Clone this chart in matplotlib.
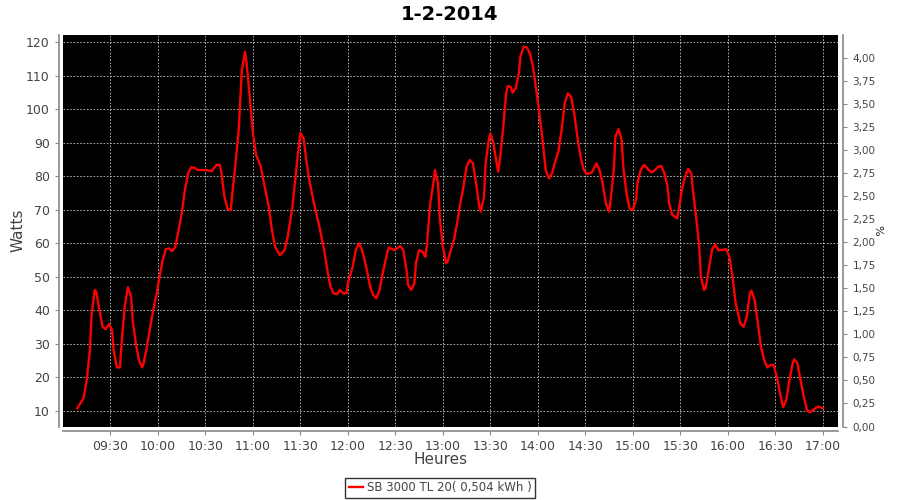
import matplotlib
matplotlib.use("Agg")
import matplotlib.pyplot as plt
import matplotlib.dates as mdates
import matplotlib.ticker as mticker
import pandas as pd

title = "1-2-2014"
series_label = "SB 3000 TL 20( 0,504 kWh )"

times = [
    "09:09", "09:13", "09:15", "09:17", "09:18", "09:20", "09:21", "09:23", "09:25", "09:27",
    "09:29", "09:31", "09:32", "09:34", "09:36", "09:37", "09:39", "09:41", "09:43", "09:44",
    "09:46", "09:48", "09:50", "09:51", "09:53", "09:55", "09:57", "09:59", "10:01", "10:03",
    "10:05", "10:07", "10:09", "10:11", "10:13", "10:15", "10:17", "10:19", "10:21", "10:23",
    "10:25", "10:30", "10:34", "10:37", "10:39", "10:40", "10:42", "10:44", "10:46", "10:47",
    "10:49", "10:51", "10:53", "10:55", "10:56", "10:58", "11:00", "11:02", "11:05", "11:07",
    "11:10", "11:12", "11:14", "11:17", "11:20", "11:22", "11:25", "11:28", "11:30", "11:32",
    "11:34", "11:36", "11:39", "11:42", "11:45", "11:47", "11:49", "11:51", "11:53", "11:55",
    "11:57", "11:59", "12:00", "12:03", "12:05", "12:07", "12:09", "12:12", "12:14", "12:16",
    "12:18", "12:20", "12:22", "12:25", "12:26", "12:29", "12:31", "12:33", "12:35", "12:37",
    "12:38", "12:40", "12:42", "12:43", "12:45", "12:47", "12:49", "12:50", "12:52", "12:54",
    "12:55", "12:57", "12:58", "13:00", "13:02", "13:03", "13:05", "13:07", "13:09", "13:11",
    "13:13", "13:15", "13:17", "13:19", "13:21", "13:23", "13:24", "13:26", "13:27", "13:29",
    "13:30", "13:32", "13:34", "13:35", "13:36", "13:38", "13:40", "13:41", "13:43", "13:44",
    "13:46", "13:48", "13:49", "13:51", "13:53", "13:55", "13:57", "13:59", "14:01", "14:03",
    "14:05", "14:07", "14:09", "14:11", "14:13", "14:15", "14:17", "14:19", "14:21", "14:23",
    "14:25", "14:27", "14:29", "14:31", "14:34", "14:36", "14:37", "14:39", "14:41", "14:43",
    "14:45", "14:46", "14:48", "14:49", "14:51", "14:53", "14:54", "14:56", "14:58", "15:00",
    "15:02", "15:03", "15:05", "15:07", "15:08", "15:10", "15:12", "15:14", "15:16", "15:18",
    "15:20", "15:22", "15:23", "15:25", "15:28", "15:29", "15:31", "15:33", "15:35", "15:37",
    "15:38", "15:40", "15:42", "15:43", "15:45", "15:46", "15:48", "15:50", "15:52", "15:54",
    "15:56", "15:59", "16:01", "16:03", "16:05", "16:08", "16:10", "16:12", "16:14", "16:15",
    "16:17", "16:19", "16:21", "16:23", "16:25", "16:27", "16:29", "16:31", "16:33", "16:35",
    "16:37", "16:39", "16:41", "16:42", "16:44", "16:46", "16:48", "16:50", "16:52", "16:54",
    "16:57", "16:59", "17:00",
]

watts = [
    10.8, 13.8, 19.2, 28.2, 38.1, 46.1, 45.6, 40.1, 35.1, 34.4,
    35.9, 34.2, 28.2, 23.0, 23.0, 30.2, 41.1, 46.9, 44.1, 37.1,
    30.2, 25.2, 23.0, 24.2, 29.2, 34.7, 40.1, 44.6, 50.1, 55.0,
    58.3, 58.5, 57.7, 59.0, 64.0, 68.9, 75.9, 80.9, 82.7, 82.6,
    81.9, 81.9, 81.6, 83.4, 83.5, 81.4, 73.9, 70.3, 69.9, 74.9,
    83.9, 93.8, 111.7, 117.2, 113.7, 103.8, 92.8, 86.4, 82.9, 77.9,
    71.0, 64.0, 59.0, 56.5, 58.0, 62.0, 71.0, 84.9, 93.0, 91.3,
    83.9, 77.9, 71.0, 65.0, 58.0, 52.1, 47.1, 45.1, 44.8, 46.1,
    45.1, 45.1, 48.1, 53.0, 58.0, 60.0, 58.0, 52.1, 47.1, 44.6,
    43.6, 46.1, 51.1, 57.5, 58.8, 58.0, 58.5, 59.2, 58.0, 52.1,
    47.6, 46.1, 48.1, 54.1, 58.0, 57.5, 56.0, 60.0, 71.9, 77.9,
    81.9, 77.9, 68.0, 59.0, 54.1, 54.5, 58.0, 61.0, 66.0, 71.9,
    76.9, 82.9, 84.9, 83.9, 77.9, 71.0, 69.5, 73.9, 83.9, 90.8,
    92.8, 89.8, 83.9, 81.4, 84.9, 93.8, 104.8, 107.0, 106.6, 105.0,
    106.3, 110.7, 115.7, 118.7, 118.5, 116.7, 112.7, 105.8, 98.8, 90.8,
    81.9, 79.4, 80.9, 84.4, 87.4, 93.8, 101.8, 104.8, 103.8, 98.8,
    91.8, 85.9, 81.9, 80.7, 81.1, 82.9, 83.9, 81.9, 77.9, 71.9,
    69.5, 72.9, 81.9, 91.8, 94.1, 90.8, 82.9, 74.9, 70.4, 69.9,
    72.9, 77.9, 81.9, 83.4, 83.1, 81.9, 81.2, 81.9, 82.9, 83.1,
    80.9, 76.9, 71.9, 68.5, 67.5, 69.9, 75.9, 79.9, 82.2, 80.9,
    75.9, 68.0, 59.0, 50.1, 46.1, 46.6, 52.1, 58.0, 59.7, 58.0,
    58.0, 58.3, 56.0, 50.1, 42.1, 36.1, 35.1, 38.1, 45.1, 45.9,
    43.1, 36.1, 29.2, 25.2, 23.0, 23.7, 23.7, 20.2, 15.3, 11.1,
    13.3, 19.2, 24.2, 25.4, 24.2, 19.2, 14.3, 10.3, 9.6, 10.3,
    11.3, 11.0, 10.8,
]

x = pd.to_datetime(["2014-02-01 " + t for t in times])

grey = "#888888"
label_col = "#444444"

fig = plt.figure(figsize=(9, 5), dpi=100)
ax = fig.add_axes([0.07, 0.147, 0.861, 0.783])
ax.set_facecolor("black")

ax.plot(x, watts, color="#ff0000", linewidth=1.7, label=series_label)

ax.set_xlim(pd.Timestamp("2014-02-01 09:00"), pd.Timestamp("2014-02-01 17:09:36"))
ax.set_ylim(5.35, 122.2)
ax.set_yticks(range(10, 121, 10))
ax.xaxis.set_major_formatter(mdates.DateFormatter("%H:%M"))
# 09:00 sits on the plot edge and has no label in the original
ax.set_xticks(pd.date_range("2014-02-01 09:30", "2014-02-01 17:00", freq="30min"))

ax.grid(True, color="#c8c8c8", linestyle=(0, (2, 2)), linewidth=0.6)

for side in ["top", "right"]:
    ax.spines[side].set_visible(False)
for side in ["left", "bottom"]:
    ax.spines[side].set_position(("outward", 3))
    ax.spines[side].set_color(grey)
    ax.spines[side].set_linewidth(1.2)
ax.tick_params(axis="both", colors=grey, labelcolor=label_col, labelsize=9, length=3, width=0.8)

ax.set_ylabel("Watts", fontsize=11, color=label_col)
ax.yaxis.set_label_coords(-0.049, 0.5)
ax.set_xlabel("Heures", fontsize=11, color=label_col)
ax.xaxis.set_label_coords(0.487, -0.066)

# right axis in percent
ax2 = ax.twinx()
ax2.set_ylim(0, 4.253)
ax2.set_yticks([i * 0.25 for i in range(17)])
ax2.yaxis.set_major_formatter(mticker.FuncFormatter(lambda v, p: f"{v:.2f}".replace(".", ",")))
for side in ["top", "left", "bottom"]:
    ax2.spines[side].set_visible(False)
ax2.spines["right"].set_position(("outward", 4))
ax2.spines["right"].set_color(grey)
ax2.spines["right"].set_linewidth(1.2)
ax2.tick_params(axis="y", colors=grey, labelcolor=label_col, labelsize=7.5, length=3, width=0.8)
ax2.set_ylabel("%", fontsize=8, color="#222222", rotation=270)
ax2.yaxis.set_label_coords(1.057, 0.5)

fig.suptitle(title, x=0.5, y=0.99, fontsize=14, fontweight="bold")

leg = fig.legend(loc="center", bbox_to_anchor=(0.489, 0.024), frameon=True, fancybox=False,
                 fontsize=8.5, handlelength=1.2, handletextpad=0.3, borderpad=0.3)
leg.get_frame().set_edgecolor("black")
leg.get_frame().set_linewidth(1.0)
for t in leg.get_texts():
    t.set_color(label_col)

fig.savefig("out.png", dpi=100)
